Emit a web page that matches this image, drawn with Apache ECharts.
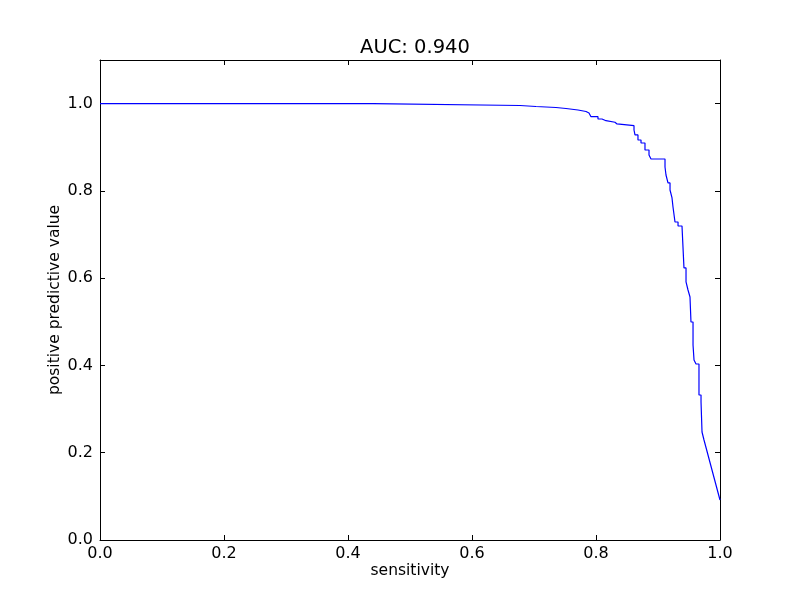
<!DOCTYPE html>
<html>
<head>
<meta charset="utf-8">
<script src="https://cdn.jsdelivr.net/npm/echarts@6/dist/echarts.min.js"></script>
<style>html,body{margin:0;padding:0;background:#fff;}#c{width:800px;height:600px;}</style>
</head>
<body>
<div id="c"></div>
<script>
// Curve vertices (sensitivity, positive predictive value)
const sensitivity = [
  0, 0.4403, 0.4403, 0.6774, 0.6774, 0.7032, 0.7032, 0.7355, 0.7355, 0.7516, 0.7516,
  0.7710, 0.7710, 0.7839, 0.7839, 0.7887, 0.7887, 0.7919, 0.7919, 0.8032, 0.8032,
  0.8097, 0.8097, 0.8161, 0.8161, 0.8306, 0.8306, 0.8339, 0.8339, 0.8613, 0.8613,
  0.8629, 0.8629, 0.8677, 0.8677, 0.8726, 0.8726, 0.8790, 0.8790, 0.8855, 0.8855,
  0.8887, 0.8887, 0.8919, 0.8919, 0.9113, 0.9113, 0.9129, 0.9129, 0.9161, 0.9161,
  0.9194, 0.9194, 0.9226, 0.9226, 0.9242, 0.9242, 0.9274, 0.9274, 0.9323, 0.9323,
  0.9387, 0.9387, 0.9419, 0.9419, 0.9452, 0.9452, 0.9484, 0.9484, 0.9516, 0.9516,
  0.9532, 0.9532, 0.9565, 0.9565, 0.9581, 0.9581, 0.9613, 0.9613, 0.9661, 0.9661,
  0.9694, 0.9694, 0.9710, 0.9710, 0.9742, 0.9742, 1.0
];
const ppv = [
  1.0, 1.0, 0.9957, 0.9957, 0.9934, 0.9934, 0.9911, 0.9911, 0.9889, 0.9889, 0.9854,
  0.9854, 0.9820, 0.9820, 0.9785, 0.9785, 0.9740, 0.9740, 0.9701, 0.9701, 0.9648,
  0.9648, 0.9609, 0.9609, 0.9573, 0.9573, 0.9534, 0.9534, 0.9495, 0.9495, 0.9396,
  0.9396, 0.9282, 0.9282, 0.9167, 0.9167, 0.9098, 0.9098, 0.8938, 0.8938, 0.8823,
  0.8823, 0.8731, 0.8731, 0.8731, 0.8731, 0.8548, 0.8548, 0.8365, 0.8365, 0.8182,
  0.8182, 0.8021, 0.8021, 0.7838, 0.7838, 0.7632, 0.7632, 0.7288, 0.7288, 0.7196,
  0.7196, 0.7196, 0.7196, 0.6234, 0.6234, 0.5913, 0.5913, 0.5729, 0.5729, 0.5569,
  0.5569, 0.4996, 0.4996, 0.4469, 0.4469, 0.4125, 0.4125, 0.4033, 0.4033, 0.3323,
  0.3323, 0.3162, 0.3162, 0.2475, 0.2475, 0.2292, 0.0917
];
const titleText = 'AUC: 0.940';
const xTicks = [0, 0.2, 0.4, 0.6, 0.8, 1.0];
const yTicks = [0, 0.2, 0.4, 0.6, 0.8, 1.0];

const font = 'DejaVu Sans';
const chart = echarts.init(document.getElementById('c'), null, {renderer: 'canvas'});
const points = sensitivity.map((x, i) => [x, ppv[i]]);
const fmt = v => {
  const ok = [...xTicks, ...yTicks].some(t => Math.abs(t - v) < 1e-9);
  return ok ? v.toFixed(1) : '';
};
const axisCommon = {
  type: 'value',
  splitLine: {show: false},
  nameMoveOverlap: false,
  axisLine: {show: true, onZero: false, lineStyle: {color: '#000', width: 1}},
  axisTick: {show: true, inside: true, length: 5, lineStyle: {color: '#000', width: 1}},
};
chart.setOption({
  backgroundColor: '#fff',
  animation: false,
  title: {
    text: titleText, left: 410, top: 33, textAlign: 'center',
    textStyle: {fontFamily: font, fontSize: 19.5, fontWeight: 'normal', color: '#000'}
  },
  grid: {left: 100, right: 80, top: 60, bottom: 60, containLabel: false},
  xAxis: [
    Object.assign({}, axisCommon, {
      position: 'bottom', min: 0, max: 1, interval: 0.2,
      name: 'sensitivity', nameLocation: 'middle', nameGap: 31,
      nameTextStyle: {fontFamily: font, fontSize: 15.5, color: '#000', verticalAlign: 'middle'},
      axisLabel: {fontFamily: font, fontSize: 16, color: '#000', margin: 6, formatter: fmt}
    }),
    Object.assign({}, axisCommon, {
      position: 'top', min: 0, max: 1, interval: 0.2, axisLabel: {show: false}
    })
  ],
  yAxis: [
    Object.assign({}, axisCommon, {
      position: 'left', min: 0, max: 1.1, interval: 0.2,
      name: 'positive predictive value', nameLocation: 'middle', nameGap: 45,
      nameTextStyle: {fontFamily: font, fontSize: 15.5, color: '#000', verticalAlign: 'middle'},
      axisLabel: {fontFamily: font, fontSize: 16, color: '#000', margin: 7, formatter: fmt}
    }),
    Object.assign({}, axisCommon, {
      position: 'right', min: 0, max: 1.1, interval: 0.2, axisLabel: {show: false}
    })
  ],
  series: [{
    type: 'line', data: points, xAxisIndex: 0, yAxisIndex: 0,
    showSymbol: false, symbol: 'none',
    lineStyle: {color: '#0000ff', width: 1.2},
    clip: true
  }]
});
</script>
</body>
</html>
